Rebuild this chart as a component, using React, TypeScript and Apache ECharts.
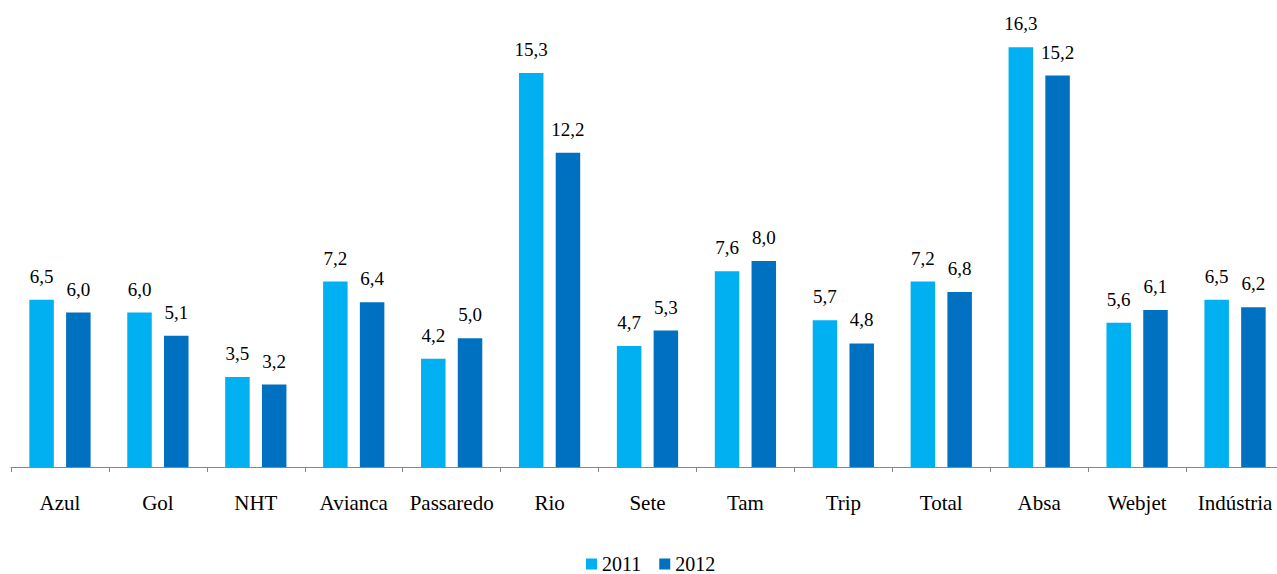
import React, { useEffect, useRef } from "react";
import * as echarts from "echarts";

const categories = ["Azul", "Gol", "NHT", "Avianca", "Passaredo", "Rio", "Sete", "Tam", "Trip", "Total", "Absa", "Webjet", "Indústria"];
const values2011 = [6.5, 6.0, 3.5, 7.2, 4.2, 15.3, 4.7, 7.6, 5.7, 7.2, 16.3, 5.6, 6.5];
const values2012 = [6.0, 5.1, 3.2, 6.4, 5.0, 12.2, 5.3, 8.0, 4.8, 6.8, 15.2, 6.1, 6.2];
const seriesNames = ["2011", "2012"];
const colors = ["#00B0F0", "#0070C0"];

const FONT = "Liberation Serif";

export default function App() {
  const ref = useRef<HTMLDivElement>(null);
  useEffect(() => {
    document.body.style.margin = "0";
    document.body.style.overflow = "hidden";
    const chart = echarts.init(ref.current!, undefined, { renderer: "svg" });
    const fmt = (p: any) => Number(p.value).toFixed(1).replace(".", ",");
    const label = { show: true, position: "top", distance: 14, formatter: fmt, fontFamily: FONT, fontSize: 19, color: "#000" };
    chart.setOption({
      animation: false,
      textStyle: { fontFamily: FONT },
      grid: { left: 11, width: 1273, top: 3.5, bottom: 107, containLabel: false },
      legend: {
        data: seriesNames,
        top: 554,
        left: 586,
        padding: 0,
        itemWidth: 11,
        itemHeight: 11,
        itemGap: 18,
        icon: "rect",
        textStyle: { fontFamily: FONT, fontSize: 20, color: "#000", padding: [0, 0, 0, 0] },
      },
      xAxis: {
        type: "category",
        data: categories,
        axisLine: { lineStyle: { color: "#868686", width: 1 } },
        axisTick: { show: true, length: 5, lineStyle: { color: "#868686" } },
        axisLabel: { fontFamily: FONT, fontSize: 21, color: "#000", margin: 25, interval: 0 },
      },
      yAxis: {
        type: "value",
        min: 0,
        max: 18,
        show: false,
        splitLine: { show: false },
      },
      series: [
        {
          name: seriesNames[0],
          type: "bar",
          data: values2011,
          barWidth: 24.5,
          barGap: "50%",
          itemStyle: { color: colors[0] },
          label,
        },
        {
          name: seriesNames[1],
          type: "bar",
          data: values2012,
          barWidth: 24.5,
          barGap: "50%",
          itemStyle: { color: colors[1] },
          label,
        },
      ],
    });
    return () => chart.dispose();
  }, []);
  return <div ref={ref} style={{ width: 1285, height: 574 }} />;
}
